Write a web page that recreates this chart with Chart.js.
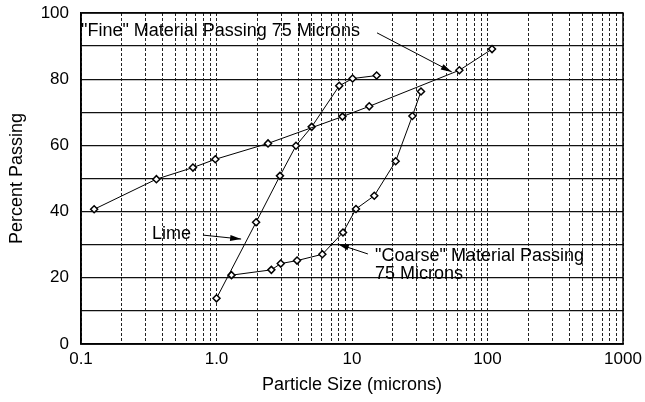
<!DOCTYPE html>
<html>
<head>
<meta charset="utf-8">
<script src="https://cdn.jsdelivr.net/npm/chart.js@4"></script>
<style>
  html, body { margin: 0; padding: 0; background: #fff; }
</style>
</head>
<body>
<canvas id="gradChart" width="645" height="402"></canvas>
<script>
// particle size (microns) vs percent passing
const fineSize = [0.125, 0.36, 0.67, 0.98, 2.4, 8.5, 13.4, 62, 108];
const finePass = [40.7, 49.8, 53.3, 55.8, 60.6, 68.7, 71.8, 82.7, 89.1];
const limeSize = [1.0, 1.96, 2.94, 3.86, 5.04, 8.05, 10.1, 15.2];
const limePass = [13.8, 36.8, 50.8, 59.9, 65.6, 78.0, 80.2, 81.1];
const coarseSize = [1.29, 2.54, 2.98, 3.93, 6.04, 8.58, 10.7, 14.6, 21.0, 27.9, 32.3];
const coarsePass = [20.8, 22.4, 24.3, 25.2, 27.1, 33.7, 40.8, 44.8, 55.2, 68.9, 76.3];

const decades = [0.1, 1, 10, 100, 1000];
const decadeLabels = ["0.1", "1.0", "10", "100", "1000"];

// callouts, anchored in data units
const notes = [
  { lines: ['"Fine" Material Passing 75 Microns'], x: 0.1, y: 93 },
  { lines: ["Lime"], x: 0.334, y: 31.7 },
  { lines: ['"Coarse" Material Passing', "75 Microns"], x: 14.8, y: 25.1 },
];
const arrows = [
  { from: [15.3, 94], to: [54.5, 82.2] },
  { from: [0.795, 32.9], to: [1.52, 31.7] },
  { from: [13.1, 27.2], to: [7.87, 30.2] },
];

const FONT = "'Liberation Sans', Arial, Helvetica, sans-serif";

// log grid: 1..9 in each decade
const gridVals = [];
for (let i = 0; i < decades.length - 1; i++) {
  for (let m = 1; m <= 9; m++) gridVals.push(decades[i] * m);
}
gridVals.push(decades[decades.length - 1]);

function toXY(xs, ys) {
  return xs.map((x, i) => ({ x: x, y: ys[i] }));
}

const calloutPlugin = {
  id: "callouts",
  afterDatasetsDraw(chart) {
    const ctx = chart.ctx;
    const xs = chart.scales.x, ys = chart.scales.y;
    const area = chart.chartArea;
    ctx.save();
    // frame
    ctx.strokeStyle = "#000";
    ctx.lineWidth = 1.5;
    ctx.strokeRect(area.left, area.top, area.right - area.left, area.bottom - area.top);

    ctx.fillStyle = "#000";
    ctx.font = "18px " + FONT;
    ctx.textBaseline = "alphabetic";
    ctx.textAlign = "left";
    for (const n of notes) {
      const px = xs.getPixelForValue(n.x);
      const py = ys.getPixelForValue(n.y);
      n.lines.forEach((t, i) => ctx.fillText(t, px, py + i * 18));
    }

    ctx.lineWidth = 1;
    ctx.strokeStyle = "#000";
    for (const a of arrows) {
      const x1 = xs.getPixelForValue(a.from[0]), y1 = ys.getPixelForValue(a.from[1]);
      const x2 = xs.getPixelForValue(a.to[0]), y2 = ys.getPixelForValue(a.to[1]);
      const ang = Math.atan2(y2 - y1, x2 - x1);
      ctx.beginPath();
      ctx.moveTo(x1, y1);
      ctx.lineTo(x2, y2);
      ctx.stroke();
      ctx.beginPath();
      ctx.moveTo(x2, y2);
      ctx.lineTo(x2 - 11 * Math.cos(ang) + 3 * Math.sin(ang), y2 - 11 * Math.sin(ang) - 3 * Math.cos(ang));
      ctx.lineTo(x2 - 11 * Math.cos(ang) - 3 * Math.sin(ang), y2 - 11 * Math.sin(ang) + 3 * Math.cos(ang));
      ctx.closePath();
      ctx.fill();
    }
    ctx.restore();
  },
};

const lineStyle = {
  showLine: true,
  borderColor: "#000",
  borderWidth: 1,
  pointStyle: "rectRot",
  pointRadius: 3.5,
  pointBorderWidth: 1.5,
  pointBorderColor: "#000",
  pointBackgroundColor: "#fff",
};

new Chart(document.getElementById("gradChart"), {
  type: "scatter",
  data: {
    datasets: [
      { label: "Fine", data: toXY(fineSize, finePass), ...lineStyle },
      { label: "Lime", data: toXY(limeSize, limePass), ...lineStyle },
      { label: "Coarse", data: toXY(coarseSize, coarsePass), ...lineStyle },
    ],
  },
  options: {
    responsive: false,
    animation: false,
    layout: { padding: { top: 13, right: 22, left: 2, bottom: 0 } },
    plugins: {
      legend: { display: false },
      tooltip: { enabled: false },
    },
    scales: {
      x: {
        type: "logarithmic",
        min: 0.1,
        max: 1000,
        afterBuildTicks: (scale) => {
          scale.ticks = gridVals.map((v) => ({ value: v }));
        },
        afterFit: (scale) => {
          scale.height = 58;
          scale.paddingLeft = 0;
          scale.paddingRight = 0;
        },
        ticks: {
          autoSkip: false,
          maxRotation: 0,
          padding: 5,
          color: "#000",
          font: { family: FONT, size: 17 },
          callback: (value) => {
            const i = decades.indexOf(value);
            return i >= 0 ? decadeLabels[i] : "";
          },
        },
        grid: { color: "#222", lineWidth: 1, drawTicks: false },
        border: { display: true, color: "#000", width: 1.5, dash: [3, 2] },
        title: {
          display: true,
          text: "Particle Size (microns)",
          color: "#000",
          font: { family: FONT, size: 18 },
          padding: { top: 4, bottom: 6 },
        },
      },
      y: {
        min: 0,
        max: 100,
        afterFit: (scale) => {
          scale.width = 79;
          scale.paddingTop = 0;
          scale.paddingBottom = 0;
        },
        ticks: {
          stepSize: 10,
          padding: 12,
          color: "#000",
          font: { family: FONT, size: 17 },
          callback: (value) => (value % 20 === 0 ? String(value) : ""),
        },
        grid: { color: "#111", lineWidth: 1.2, drawTicks: false },
        border: { display: true, color: "#000", width: 1.5 },
        title: {
          display: true,
          text: "Percent Passing",
          color: "#000",
          font: { family: FONT, size: 18 },
          padding: { top: 4, bottom: 4 },
        },
      },
    },
  },
  plugins: [calloutPlugin],
});
</script>
</body>
</html>
